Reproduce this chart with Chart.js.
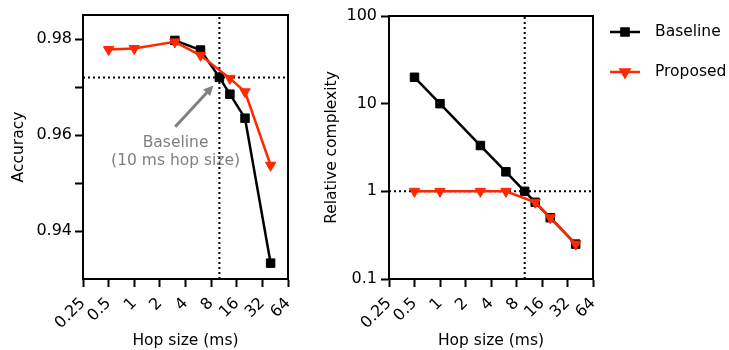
<!DOCTYPE html>
<html>
<head>
<meta charset="utf-8">
<script src="https://cdn.jsdelivr.net/npm/chart.js@4.4.1/dist/chart.umd.min.js"></script>
<style>
    html, body { margin: 0; padding: 0; background: #fff; }
    #wrap { position: relative; width: 729px; height: 350px; }
    #accWrap { position: absolute; left: 0; top: 0; width: 300px; height: 350px; }
    #cxWrap { position: absolute; left: 300px; top: 0; width: 429px; height: 350px; }
</style>
</head>
<body>
<div id="wrap">
    <div id="accWrap"><canvas id="accuracyChart"></canvas></div>
    <div id="cxWrap"><canvas id="complexityChart"></canvas></div>
</div>
<script>
const hopSizes = [0.5, 1, 3, 6, 10, 13.3, 20, 40];
const baselineAccuracy = [null, null, 0.9797, 0.9777, 0.9720, 0.9685, 0.9635, 0.9333];
const proposedAccuracy = [0.9778, 0.9780, 0.9794, 0.9766, null, 0.9718, 0.9690, 0.9537];
const baselineComplexity = [20, 10, 3.33, 1.67, 1, 0.75, 0.5, 0.25];
const proposedComplexity = [1, 1, 1, 1, null, 0.75, 0.5, 0.25];

const hopTicks = [0.25, 0.5, 1, 2, 4, 8, 16, 32, 64];
const hopTickLabels = ['0.25', '0.5', '1', '2', '4', '8', '16', '32', '64'];
const accuracyTicks = [0.94, 0.95, 0.96, 0.97, 0.98];
const accuracyTickLabels = ['0.94', '', '0.96', '', '0.98'];
const complexityTicks = [0.1, 1, 10, 100];
const complexityTickLabels = ['0.1', '1', '10', '100'];

// baseline operating point (10 ms hop size)
const refHop = 10;
const refAccuracy = 0.972;
const refComplexity = 1;

const HOP_MIN = 0.25, HOP_MAX = 64;
const ACC_MIN = 0.93, ACC_MAX = 0.985;
const CX_MIN = 0.1, CX_MAX = 100;

const RED = 'rgb(255, 40, 0)';
const FONT = 'DejaVu Sans';
const TICK_FONT = { family: FONT, size: 16 };
const TITLE_FONT = { family: FONT, size: 15.5 };

const xy = (ys) => hopSizes.map((x, i) => ({ x: x, y: ys[i] }));

function seriesSets(baseline, proposed, refY, yMin, yMax) {
    return [
        {
            label: 'Proposed',
            data: xy(proposed),
            borderColor: RED,
            backgroundColor: RED,
            borderWidth: 2.5,
            pointStyle: 'triangle',
            rotation: 180,
            pointRadius: 6,
            pointBorderWidth: 1,
            spanGaps: true,
            order: 0
        },
        {
            label: 'Baseline',
            data: xy(baseline),
            borderColor: '#000',
            backgroundColor: '#000',
            borderWidth: 2.5,
            pointStyle: 'rect',
            pointRadius: 6,
            pointBorderWidth: 1,
            spanGaps: true,
            order: 1
        },
        {
            label: '_refV',
            data: [{ x: refHop, y: yMin }, { x: refHop, y: yMax }],
            borderColor: '#000',
            borderWidth: 2,
            borderDash: [2, 3],
            pointRadius: 0,
            order: 2
        },
        {
            label: '_refH',
            data: [{ x: HOP_MIN, y: refY }, { x: HOP_MAX, y: refY }],
            borderColor: '#000',
            borderWidth: 2,
            borderDash: [2, 3],
            pointRadius: 0,
            order: 2
        }
    ];
}

function hopAxis() {
    return {
        type: 'logarithmic',
        min: HOP_MIN,
        max: HOP_MAX,
        afterBuildTicks: s => { s.ticks = hopTicks.map(v => ({ value: v })); },
        afterFit: s => {
            s.height = 71;
            s.paddingLeft = 0;
            s.paddingRight = 0;
        },
        border: { display: true, color: '#000', width: 2 },
        grid: { drawOnChartArea: false, tickLength: 8, tickWidth: 2, tickColor: '#000' },
        ticks: {
            autoSkip: false,
            minRotation: 45,
            maxRotation: 45,
            padding: 7,
            color: '#000',
            font: TICK_FONT,
            callback: (v, i) => hopTickLabels[i]
        },
        title: { display: true, text: 'Hop size (ms)', color: '#000', font: TITLE_FONT, padding: 0 }
    };
}

// draws top/right edges of the box
const framePlugin = {
    id: 'frame',
    afterDraw(chart) {
        const a = chart.chartArea, ctx = chart.ctx;
        ctx.save();
        ctx.strokeStyle = '#000';
        ctx.lineWidth = 2;
        ctx.beginPath();
        ctx.moveTo(a.left, a.top);
        ctx.lineTo(a.right, a.top);
        ctx.lineTo(a.right, a.bottom);
        ctx.stroke();
        ctx.restore();
    }
};

// gray arrow + label pointing at the baseline operating point
const annotationPlugin = {
    id: 'baselineNote',
    afterDatasetsDraw(chart) {
        const xs = chart.scales.x, ys = chart.scales.y, ctx = chart.ctx;
        const x0 = xs.getPixelForValue(3.03), y0 = ys.getPixelForValue(0.9617);
        const x1 = xs.getPixelForValue(8.5), y1 = ys.getPixelForValue(0.9703);
        const ang = Math.atan2(y1 - y0, x1 - x0);
        const head = 11;
        ctx.save();
        ctx.strokeStyle = '#808080';
        ctx.fillStyle = '#808080';
        ctx.lineWidth = 3;
        ctx.beginPath();
        ctx.moveTo(x0, y0);
        ctx.lineTo(x1 - Math.cos(ang) * head * 0.8, y1 - Math.sin(ang) * head * 0.8);
        ctx.stroke();
        ctx.beginPath();
        ctx.moveTo(x1, y1);
        ctx.lineTo(x1 - head * Math.cos(ang - 0.45), y1 - head * Math.sin(ang - 0.45));
        ctx.lineTo(x1 - head * Math.cos(ang + 0.45), y1 - head * Math.sin(ang + 0.45));
        ctx.closePath();
        ctx.fill();

        ctx.font = '15.5px "' + FONT + '"';
        ctx.textAlign = 'center';
        ctx.textBaseline = 'middle';
        const tx = xs.getPixelForValue(3.06);
        ctx.fillText('Baseline', tx, ys.getPixelForValue(0.9584));
        ctx.fillText('(10 ms hop size)', tx, ys.getPixelForValue(0.9546));
        ctx.restore();
    }
};

// legend with line + marker, to the right of the second panel
const legendPlugin = {
    id: 'lineLegend',
    afterDraw(chart) {
        const ctx = chart.ctx;
        const left = chart.chartArea.right + 17;
        const rows = [chart.data.datasets[1], chart.data.datasets[0]];
        ctx.save();
        rows.forEach((ds, i) => {
            const y = 32 + i * 40;
            ctx.strokeStyle = ds.borderColor;
            ctx.fillStyle = ds.backgroundColor;
            ctx.lineWidth = 2.5;
            ctx.beginPath();
            ctx.moveTo(left, y);
            ctx.lineTo(left + 30, y);
            ctx.stroke();
            Chart.helpers.drawPoint(ctx, {
                pointStyle: ds.pointStyle,
                rotation: ds.rotation || 0,
                radius: 5,
                borderWidth: 1
            }, left + 15, y);
            ctx.fillStyle = '#000';
            ctx.font = '15.5px "' + FONT + '"';
            ctx.textAlign = 'left';
            ctx.textBaseline = 'middle';
            ctx.fillText(ds.label, left + 45, y);
        });
        ctx.restore();
    }
};

const common = {
    responsive: true,
    maintainAspectRatio: false,
    devicePixelRatio: 1,
    animation: false,
    events: [],
    plugins: { legend: { display: false }, tooltip: { enabled: false } }
};

new Chart(document.getElementById('accuracyChart'), {
    type: 'line',
    data: { datasets: seriesSets(baselineAccuracy, proposedAccuracy, refAccuracy, ACC_MIN, ACC_MAX) },
    options: {
        ...common,
        layout: { padding: { top: 15, right: 12, left: 0, bottom: 0 } },
        scales: {
            x: hopAxis(),
            y: {
                type: 'linear',
                min: ACC_MIN,
                max: ACC_MAX,
                afterBuildTicks: s => { s.ticks = accuracyTicks.map(v => ({ value: v })); },
                afterFit: s => { s.width = 83; },
                border: { display: true, color: '#000', width: 2 },
                grid: { drawOnChartArea: false, tickLength: 8, tickWidth: 2, tickColor: '#000' },
                ticks: {
                    padding: 3,
                    color: '#000',
                    font: TICK_FONT,
                    callback: (v, i) => accuracyTickLabels[i]
                },
                title: { display: true, text: 'Accuracy', color: '#000', font: TITLE_FONT, padding: { top: 10, bottom: 0 } }
            }
        }
    },
    plugins: [framePlugin, annotationPlugin]
});

new Chart(document.getElementById('complexityChart'), {
    type: 'line',
    data: { datasets: seriesSets(baselineComplexity, proposedComplexity, refComplexity, CX_MIN, CX_MAX) },
    options: {
        ...common,
        layout: { padding: { top: 16, right: 136, left: 0, bottom: 0 } },
        scales: {
            x: hopAxis(),
            y: {
                type: 'logarithmic',
                min: CX_MIN,
                max: CX_MAX,
                afterBuildTicks: s => { s.ticks = complexityTicks.map(v => ({ value: v })); },
                afterFit: s => { s.width = 89; },
                border: { display: true, color: '#000', width: 2 },
                grid: { drawOnChartArea: false, tickLength: 8, tickWidth: 2, tickColor: '#000' },
                ticks: {
                    padding: 4,
                    color: '#000',
                    font: TICK_FONT,
                    callback: (v, i) => complexityTickLabels[i]
                },
                title: { display: true, text: 'Relative complexity', color: '#000', font: TITLE_FONT, padding: { top: 23, bottom: 0 } }
            }
        }
    },
    plugins: [framePlugin, legendPlugin]
});
</script>
</body>
</html>
